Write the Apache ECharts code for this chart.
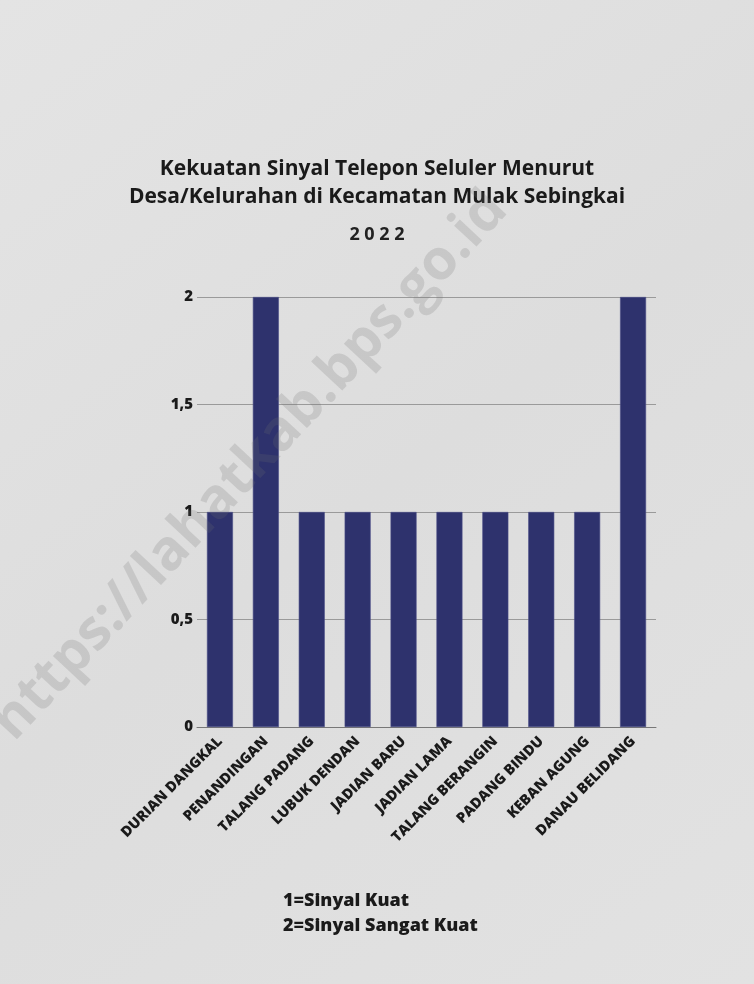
<!DOCTYPE html>
<html>
<head>
<meta charset="utf-8">
<script src="https://cdn.jsdelivr.net/npm/echarts@6/dist/echarts.min.js"></script>
<style>
html,body{margin:0;padding:0;background:#e0e0e0;}
#chart{width:754px;height:984px;}
</style>
</head>
<body>
<div id="chart"></div>
<script>
// data
var desa = ['DURIAN DANGKAL','PENANDINGAN','TALANG PADANG','LUBUK DENDAN','JADIAN BARU',
	'JADIAN LAMA','TALANG BERANGIN','PADANG BINDU','KEBAN AGUNG','DANAU BELIDANG'];
var sinyal = [1, 2, 1, 1, 1, 1, 1, 1, 1, 2];
var keterangan = ['1=Sinyal Kuat', '2=Sinyal Sangat Kuat'];

var myChart = echarts.init(document.getElementById('chart'));

var option = {
	backgroundColor: new echarts.graphic.LinearGradient(0, 0, 1, 1, [
		{offset: 0, color: '#e4e4e4'},
		{offset: 0.5, color: '#dddddd'},
		{offset: 1, color: '#e2e2e2'}
	]),
	animation: false,
	title: [{
		text: 'Kekuatan Sinyal Telepon Seluler Menurut\nDesa/Kelurahan di Kecamatan Mulak Sebingkai',
		left: 'center',
		top: 150,
		textStyle: {
			fontFamily: 'Open Sans',
			fontWeight: 'bold',
			fontSize: 21,
			lineHeight: 28,
			color: '#1a1a1a'
		}
	}, {
		text: '2 0 2 2',
		left: 'center',
		top: 221,
		textStyle: {
			fontFamily: 'Open Sans',
			fontWeight: 'bold',
			fontSize: 18,
			color: '#222'
		}
	}],
	grid: {
		left: 197,
		right: 98,
		top: 297,
		bottom: 257,
		containLabel: false
	},
	xAxis: {
		type: 'category',
		data: desa,
		axisTick: {show: false},
		axisLine: {lineStyle: {color: '#777', width: 1}},
		axisLabel: {
			rotate: 45,
			interval: 0,
			margin: 12,
			fontFamily: 'Open Sans',
			fontWeight: 800,
			fontSize: 14.5,
			color: '#1a1a1a'
		}
	},
	yAxis: {
		type: 'value',
		min: 0,
		max: 2,
		interval: 0.5,
		axisLine: {show: false},
		axisTick: {show: false},
		splitLine: {lineStyle: {color: '#9a9a9a', width: 1}},
		axisLabel: {
			margin: 4,
			fontFamily: 'Open Sans',
			fontWeight: 800,
			fontSize: 15,
			color: '#1a1a1a',
			formatter: function (v) {
				return String(v).replace('.', ',');
			}
		}
	},
	series: [{
		type: 'bar',
		data: sinyal,
		barWidth: 26,
		itemStyle: {
			color: '#2e326d',
			borderColor: '#4a4e86',
			borderWidth: 0.6
		}
	}],
	graphic: [{
		type: 'text',
		left: 283,
		top: 888,
		style: {
			text: keterangan.join('\n'),
			fontFamily: 'Open Sans',
			fontWeight: 800,
			fontSize: 18,
			lineHeight: 25,
			fill: '#1a1a1a'
		}
	}, {
		// watermark
		type: 'text',
		x: 250,
		y: 466,
		rotation: 47 * Math.PI / 180,
		z: 100,
		style: {
			text: 'https://lahatkab.bps.go.id',
			fontFamily: 'Open Sans',
			fontWeight: 'bold',
			fontSize: 56,
			fill: 'rgba(110,110,110,0.2)',
			align: 'center',
			verticalAlign: 'middle'
		}
	}]
};
myChart.setOption(option);
</script>
</body>
</html>
